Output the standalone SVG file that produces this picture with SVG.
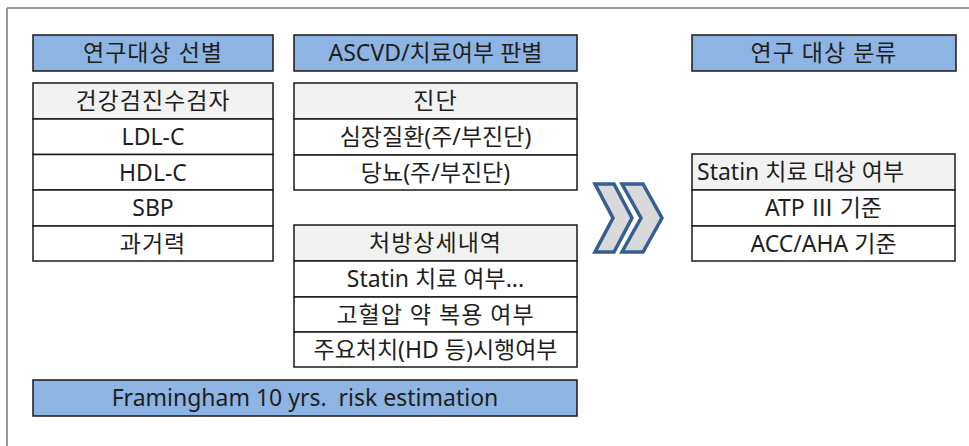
<svg xmlns="http://www.w3.org/2000/svg" width="969" height="446" viewBox="0 0 969 446">
<style>
.hd{fill:#8DB4E2;stroke:#1a1a1a;stroke-width:1.5}
.g{fill:#F2F2F2;stroke:#1a1a1a;stroke-width:1.5}
.w{fill:#FFFFFF;stroke:#1a1a1a;stroke-width:1.5}
text{font-family:"Noto Sans","Noto Sans CJK KR",sans-serif;font-size:23px;fill:#1e1e1e;text-anchor:middle;white-space:pre}
.k{letter-spacing:1px}
.lt{text-anchor:start}
.chev{fill:#D9D9D9;stroke:#345F93;stroke-width:3.5;stroke-linejoin:miter}
</style>
<rect x="0" y="0" width="969" height="446" fill="#FFFFFF"/>
<g id="frame">
<line x1="7" y1="8" x2="969" y2="8" stroke="#9a9a9a" stroke-width="2"/>
<line x1="7" y1="8" x2="7" y2="446" stroke="#9a9a9a" stroke-width="2"/>
</g>
<g id="header-select">
<rect class="hd" x="33" y="35" width="240" height="36"/>
<text class="k" x="153" y="61">연구대상 선별</text>
</g>
<g id="table-select">
<rect class="g" x="33" y="83" width="240" height="36"/>
<text class="k" x="153" y="109">건강검진수검자</text>
<rect class="w" x="33" y="119" width="240" height="35.5"/>
<text x="153" y="145">LDL-C</text>
<rect class="w" x="33" y="154.5" width="240" height="35.5"/>
<text x="153" y="180.5">HDL-C</text>
<rect class="w" x="33" y="190" width="240" height="36"/>
<text x="153" y="216">SBP</text>
<rect class="w" x="33" y="226" width="240" height="35"/>
<text class="k" x="153" y="252">과거력</text>
</g>
<g id="header-ascvd">
<rect class="hd" x="294" y="35" width="283" height="36"/>
<text x="435.5" y="61">ASCVD/치료여부 판별</text>
</g>
<g id="table-diagnosis">
<rect class="g" x="294" y="83" width="283" height="36"/>
<text class="k" x="435.5" y="109">진단</text>
<rect class="w" x="294" y="119" width="283" height="36"/>
<text x="435.5" y="145">심장질환(주/부진단)</text>
<rect class="w" x="294" y="155" width="283" height="35"/>
<text x="435.5" y="181">당뇨(주/부진단)</text>
</g>
<g id="table-prescription">
<rect class="g" x="294" y="225" width="283" height="36"/>
<text class="k" x="435.5" y="251">처방상세내역</text>
<rect class="w" x="294" y="261" width="283" height="36"/>
<text x="435.5" y="287">Statin 치료 여부...</text>
<rect class="w" x="294" y="297" width="283" height="35"/>
<text class="k" x="435.5" y="323">고혈압 약 복용 여부</text>
<rect class="w" x="294" y="332" width="283" height="35"/>
<text x="435.5" y="358">주요처치(HD 등)시행여부</text>
</g>
<g id="framingham">
<rect class="hd" x="33" y="380" width="544" height="36"/>
<text x="305" y="406">Framingham 10 yrs.  risk estimation</text>
</g>
<g id="connectors">
<polygon class="chev" points="595,184 614,184 632,218 614,252 595,252 613,218"/>
<polygon class="chev" points="622,184 643,184 662,218 643,252 622,252 641,218"/>
</g>
<g id="header-classify">
<rect class="hd" x="692" y="35" width="264" height="36"/>
<text class="k" x="824" y="61">연구 대상 분류</text>
</g>
<g id="table-classify">
<rect class="g" x="692" y="154" width="263" height="36"/>
<text class="lt" x="697" y="180">Statin 치료 대상 여부</text>
<rect class="w" x="692" y="190" width="263" height="36"/>
<text x="823.5" y="216">ATP Ⅲ 기준</text>
<rect class="w" x="692" y="226" width="263" height="35"/>
<text x="823.5" y="252">ACC/AHA 기준</text>
</g>
</svg>
